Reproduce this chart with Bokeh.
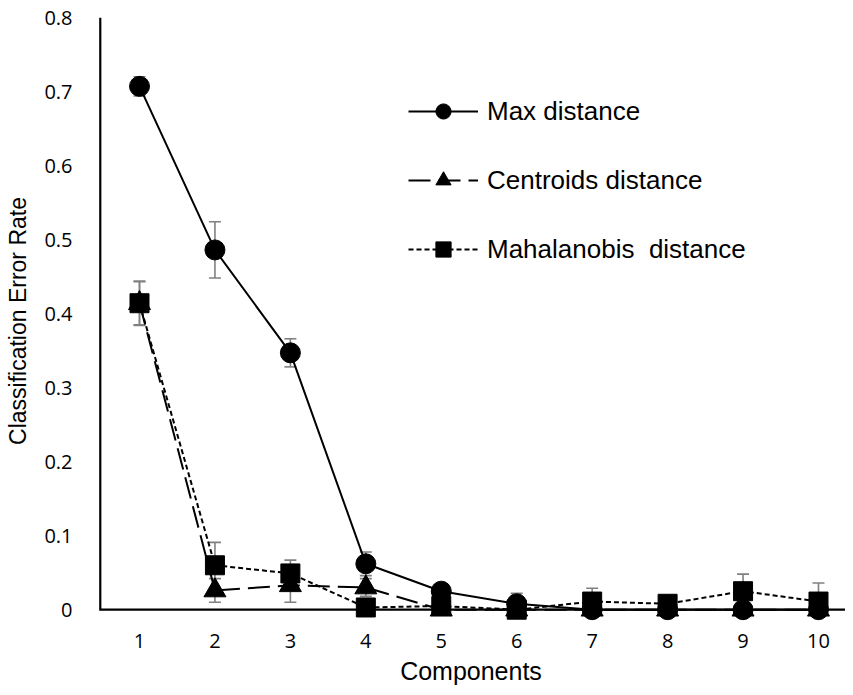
import numpy as np
from bokeh.plotting import figure
from bokeh.models import ColumnDataSource, Whisker, TeeHead, Legend, LegendItem, Range1d, FixedTicker
from bokeh.embed import file_html
from bokeh.resources import INLINE

components = [1, 2, 3, 4, 5, 6, 7, 8, 9, 10]

max_dist = [0.707, 0.486, 0.347, 0.062, 0.025, 0.008, 0.0, 0.0, 0.0, 0.0]
max_err = [0.013, 0.038, 0.019, 0.016, 0.004, 0.014, 0.0, 0.0, 0.0, 0.0]

cent_dist = [0.414, 0.026, 0.033, 0.030, 0.0, 0.0, 0.0, 0.0, 0.0, 0.0]
cent_err = [0.030, 0.016, 0.023, 0.012, 0.0, 0.0, 0.0, 0.0, 0.0, 0.0]

maha_dist = [0.414, 0.060, 0.049, 0.003, 0.005, 0.0, 0.011, 0.008, 0.025, 0.011]
maha_err = [0.029, 0.031, 0.018, 0.003, 0.003, 0.0, 0.018, 0.003, 0.023, 0.025]

y_ticks = [0, 0.1, 0.2, 0.3, 0.4, 0.5, 0.6, 0.7, 0.8]
y_tick_labels = {0: "0", 0.1: "0.1", 0.2: "0.2", 0.3: "0.3", 0.4: "0.4",
                 0.5: "0.5", 0.6: "0.6", 0.7: "0.7", 0.8: "0.8"}

X_START, X_END = 0.43, 10.358
Y_START, Y_END = -0.02, 0.8
AXIS_X = 0.48

p = figure(width=845, height=687, output_backend="svg", toolbar_location=None,
           x_range=Range1d(X_START, X_END), y_range=Range1d(Y_START, Y_END),
           min_border_left=96, min_border_right=0, min_border_top=17, min_border_bottom=57)
p.outline_line_color = None
p.grid.visible = False
p.background_fill_color = "white"

def src(vals, errs):
    v = np.array(vals)
    e = np.array(errs)
    return ColumnDataSource(dict(x=components, y=vals,
                                 upper=v + e, lower=np.maximum(v - e, 0)))

s_max = src(max_dist, max_err)
s_cent = src(cent_dist, cent_err)
s_maha = src(maha_dist, maha_err)

for s in (s_max, s_cent, s_maha):
    w = Whisker(base="x", upper="upper", lower="lower", source=s,
                line_color="#808080", line_width=1.6,
                upper_head=TeeHead(size=12, line_color="#808080", line_width=1.6),
                lower_head=TeeHead(size=12, line_color="#808080", line_width=1.6),
                level="underlay")
    p.add_layout(w)

# axis lines (L-shape)
p.line([AXIS_X, AXIS_X, X_END], [Y_END, 0, 0], line_color="black", line_width=2.2,
       line_join="miter")

l1 = p.line("x", "y", source=s_max, line_color="black", line_width=2)
l2 = p.line("x", "y", source=s_cent, line_color="black", line_width=2, line_dash="22 8")
l3 = p.line("x", "y", source=s_maha, line_color="black", line_width=2, line_dash="5 3")

m1 = p.scatter("x", "y", source=s_max, marker="circle", size=20, color="black")
m2 = p.scatter("x", "y", source=s_cent, marker="triangle", size=22, color="black")
m3 = p.scatter("x", "y", source=s_maha, marker="square", size=19, color="black")

legend = Legend(items=[
    LegendItem(label="Max distance", renderers=[l1, m1]),
    LegendItem(label="Centroids distance", renderers=[l2, m2]),
    LegendItem(label="Mahalanobis  distance", renderers=[l3, m3]),
], location=(312, 356))
legend.border_line_color = None
legend.background_fill_alpha = 0
legend.padding = 0
legend.margin = 0
legend.glyph_width = 70
legend.glyph_height = 38
legend.label_height = 38
legend.spacing = 31
legend.label_standoff = 9
legend.label_text_font = "Liberation Sans"
legend.label_text_font_size = "26px"
legend.label_text_color = "black"
p.add_layout(legend, "center")

# axes
p.xaxis.ticker = FixedTicker(ticks=components)
p.yaxis.ticker = FixedTicker(ticks=y_ticks)
p.yaxis.major_label_overrides = y_tick_labels
for ax in (p.xaxis, p.yaxis):
    ax.axis_line_color = None
    ax.major_tick_line_color = None
    ax.minor_tick_line_color = None
    ax.major_label_text_font = "Open Sans"
    ax.major_label_text_font_size = "20px"
    ax.major_label_text_color = "black"
    ax.axis_label_text_font = "Liberation Sans"
    ax.axis_label_text_font_style = "normal"
    ax.axis_label_text_color = "black"

p.yaxis.major_label_standoff = 18
p.xaxis.major_label_standoff = 3
p.yaxis.axis_label = "Classification Error Rate"
p.yaxis.axis_label_text_font_size = "23px"
p.yaxis.axis_label_standoff = 10
p.xaxis.axis_label = "Components"
p.xaxis.axis_label_text_font_size = "25px"
p.xaxis.axis_label_standoff = 6

open("out.html", "w").write(file_html(p, INLINE))
